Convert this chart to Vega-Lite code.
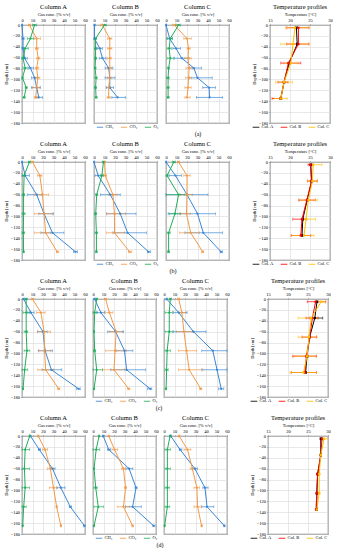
{
"$schema": "https://vega.github.io/schema/vega-lite/v6.json",
"padding": {"left": 3, "top": 2, "right": 0, "bottom": 0},
"datasets": {
"gas": [
{"r":"a","c":"A","g":"CH₄","d":0,"v":0,"lo":0,"hi":0.5},
{"r":"a","c":"A","g":"CH₄","d":-25,"v":1,"lo":0,"hi":2},
{"r":"a","c":"A","g":"CH₄","d":-43,"v":1,"lo":0,"hi":2},
{"r":"a","c":"A","g":"CH₄","d":-61,"v":2.5,"lo":0,"hi":5},
{"r":"a","c":"A","g":"CH₄","d":-79,"v":8,"lo":6,"hi":11},
{"r":"a","c":"A","g":"CH₄","d":-97,"v":12,"lo":9,"hi":15},
{"r":"a","c":"A","g":"CH₄","d":-115,"v":14,"lo":9,"hi":17.5},
{"r":"a","c":"A","g":"CH₄","d":-133,"v":16,"lo":13.5,"hi":19.5},
{"r":"a","c":"A","g":"CO₂","d":0,"v":7,"lo":6,"hi":8},
{"r":"a","c":"A","g":"CO₂","d":-25,"v":14,"lo":12,"hi":17.5},
{"r":"a","c":"A","g":"CO₂","d":-43,"v":14,"lo":13,"hi":15.5},
{"r":"a","c":"A","g":"CO₂","d":-61,"v":15.5,"lo":14,"hi":17},
{"r":"a","c":"A","g":"CO₂","d":-79,"v":14,"lo":12.5,"hi":16},
{"r":"a","c":"A","g":"CO₂","d":-97,"v":15,"lo":12.5,"hi":17},
{"r":"a","c":"A","g":"CO₂","d":-115,"v":14,"lo":10,"hi":17},
{"r":"a","c":"A","g":"CO₂","d":-133,"v":13,"lo":12,"hi":15},
{"r":"a","c":"A","g":"O₂","d":0,"v":12,"lo":10,"hi":14},
{"r":"a","c":"A","g":"O₂","d":-25,"v":8,"lo":5,"hi":11},
{"r":"a","c":"A","g":"O₂","d":-43,"v":3,"lo":0.5,"hi":6},
{"r":"a","c":"A","g":"O₂","d":-61,"v":1,"lo":0,"hi":3},
{"r":"a","c":"A","g":"O₂","d":-79,"v":3,"lo":1,"hi":5},
{"r":"a","c":"A","g":"O₂","d":-97,"v":0.5,"lo":0,"hi":1},
{"r":"a","c":"A","g":"O₂","d":-115,"v":4,"lo":3,"hi":5},
{"r":"a","c":"A","g":"O₂","d":-133,"v":2,"lo":1,"hi":3},
{"r":"a","c":"B","g":"CH₄","d":0,"v":0.5,"lo":0,"hi":1},
{"r":"a","c":"B","g":"CH₄","d":-25,"v":0.5,"lo":0,"hi":1},
{"r":"a","c":"B","g":"CH₄","d":-43,"v":5.5,"lo":3,"hi":8},
{"r":"a","c":"B","g":"CH₄","d":-61,"v":8,"lo":5,"hi":11.5},
{"r":"a","c":"B","g":"CH₄","d":-79,"v":14,"lo":10.5,"hi":18},
{"r":"a","c":"B","g":"CH₄","d":-97,"v":15,"lo":10.5,"hi":20},
{"r":"a","c":"B","g":"CH₄","d":-115,"v":15,"lo":11.5,"hi":18.5},
{"r":"a","c":"B","g":"CH₄","d":-133,"v":22.5,"lo":17,"hi":30},
{"r":"a","c":"B","g":"CO₂","d":0,"v":8,"lo":6,"hi":10},
{"r":"a","c":"B","g":"CO₂","d":-25,"v":15,"lo":13,"hi":17},
{"r":"a","c":"B","g":"CO₂","d":-43,"v":15,"lo":13,"hi":17},
{"r":"a","c":"B","g":"CO₂","d":-61,"v":15,"lo":13,"hi":16.5},
{"r":"a","c":"B","g":"CO₂","d":-79,"v":15,"lo":13,"hi":17},
{"r":"a","c":"B","g":"CO₂","d":-97,"v":15,"lo":13,"hi":17},
{"r":"a","c":"B","g":"CO₂","d":-115,"v":14,"lo":12,"hi":16},
{"r":"a","c":"B","g":"CO₂","d":-133,"v":14,"lo":12.5,"hi":15.5},
{"r":"a","c":"B","g":"O₂","d":0,"v":10,"lo":8,"hi":12},
{"r":"a","c":"B","g":"O₂","d":-25,"v":1.5,"lo":0.5,"hi":2.5},
{"r":"a","c":"B","g":"O₂","d":-43,"v":1.5,"lo":0.5,"hi":2.5},
{"r":"a","c":"B","g":"O₂","d":-61,"v":1.5,"lo":0.5,"hi":2.5},
{"r":"a","c":"B","g":"O₂","d":-79,"v":1,"lo":0.5,"hi":2},
{"r":"a","c":"B","g":"O₂","d":-97,"v":2,"lo":1,"hi":3},
{"r":"a","c":"B","g":"O₂","d":-115,"v":1.5,"lo":0.5,"hi":2.5},
{"r":"a","c":"B","g":"O₂","d":-133,"v":2,"lo":1,"hi":3},
{"r":"a","c":"C","g":"CH₄","d":0,"v":0,"lo":0,"hi":0.5},
{"r":"a","c":"C","g":"CH₄","d":-25,"v":3.5,"lo":1,"hi":6},
{"r":"a","c":"C","g":"CH₄","d":-43,"v":9.5,"lo":6.5,"hi":14},
{"r":"a","c":"C","g":"CH₄","d":-61,"v":15,"lo":8,"hi":22},
{"r":"a","c":"C","g":"CH₄","d":-79,"v":26.5,"lo":22,"hi":34},
{"r":"a","c":"C","g":"CH₄","d":-97,"v":30,"lo":22,"hi":44},
{"r":"a","c":"C","g":"CH₄","d":-115,"v":41,"lo":35,"hi":47},
{"r":"a","c":"C","g":"CH₄","d":-133,"v":41.5,"lo":29,"hi":54},
{"r":"a","c":"C","g":"CO₂","d":0,"v":8,"lo":6,"hi":10},
{"r":"a","c":"C","g":"CO₂","d":-25,"v":20,"lo":17,"hi":24},
{"r":"a","c":"C","g":"CO₂","d":-43,"v":21.5,"lo":20,"hi":23},
{"r":"a","c":"C","g":"CO₂","d":-61,"v":21,"lo":18,"hi":24},
{"r":"a","c":"C","g":"CO₂","d":-79,"v":22,"lo":19,"hi":25},
{"r":"a","c":"C","g":"CO₂","d":-97,"v":21.5,"lo":18.5,"hi":24.5},
{"r":"a","c":"C","g":"CO₂","d":-115,"v":21,"lo":18,"hi":24},
{"r":"a","c":"C","g":"CO₂","d":-133,"v":20,"lo":18,"hi":23},
{"r":"a","c":"C","g":"O₂","d":0,"v":12,"lo":9,"hi":14},
{"r":"a","c":"C","g":"O₂","d":-25,"v":4,"lo":1,"hi":6},
{"r":"a","c":"C","g":"O₂","d":-43,"v":3,"lo":1,"hi":5},
{"r":"a","c":"C","g":"O₂","d":-61,"v":4,"lo":1,"hi":7},
{"r":"a","c":"C","g":"O₂","d":-79,"v":2.5,"lo":1.5,"hi":3},
{"r":"a","c":"C","g":"O₂","d":-97,"v":2,"lo":0.5,"hi":3},
{"r":"a","c":"C","g":"O₂","d":-115,"v":2,"lo":1,"hi":3},
{"r":"a","c":"C","g":"O₂","d":-133,"v":2,"lo":1,"hi":3},
{"r":"b","c":"A","g":"CH₄","d":0,"v":0,"lo":0,"hi":0.5},
{"r":"b","c":"A","g":"CH₄","d":-25,"v":3,"lo":0,"hi":7},
{"r":"b","c":"A","g":"CH₄","d":-60,"v":14,"lo":5,"hi":19},
{"r":"b","c":"A","g":"CH₄","d":-95,"v":21,"lo":16,"hi":30},
{"r":"b","c":"A","g":"CH₄","d":-130,"v":29,"lo":18,"hi":40},
{"r":"b","c":"A","g":"CH₄","d":-165,"v":51,"lo":49,"hi":53},
{"r":"b","c":"A","g":"CO₂","d":0,"v":10,"lo":9,"hi":11},
{"r":"b","c":"A","g":"CO₂","d":-25,"v":17,"lo":15,"hi":19},
{"r":"b","c":"A","g":"CO₂","d":-60,"v":19.5,"lo":11.5,"hi":25.5},
{"r":"b","c":"A","g":"CO₂","d":-95,"v":21,"lo":12,"hi":29},
{"r":"b","c":"A","g":"CO₂","d":-130,"v":22.5,"lo":12,"hi":27},
{"r":"b","c":"A","g":"CO₂","d":-165,"v":33.5,"lo":33,"hi":35},
{"r":"b","c":"A","g":"O₂","d":0,"v":7,"lo":6,"hi":8},
{"r":"b","c":"A","g":"O₂","d":-25,"v":2,"lo":0.5,"hi":3.5},
{"r":"b","c":"A","g":"O₂","d":-60,"v":1.5,"lo":0.5,"hi":2.5},
{"r":"b","c":"A","g":"O₂","d":-95,"v":1.5,"lo":0,"hi":3},
{"r":"b","c":"A","g":"O₂","d":-130,"v":1.3,"lo":0,"hi":2.5},
{"r":"b","c":"A","g":"O₂","d":-165,"v":1.5,"lo":1,"hi":2},
{"r":"b","c":"B","g":"CH₄","d":0,"v":0,"lo":0,"hi":0.5},
{"r":"b","c":"B","g":"CH₄","d":-25,"v":4,"lo":1,"hi":7},
{"r":"b","c":"B","g":"CH₄","d":-60,"v":15.5,"lo":6,"hi":25},
{"r":"b","c":"B","g":"CH₄","d":-95,"v":25,"lo":12,"hi":40},
{"r":"b","c":"B","g":"CH₄","d":-130,"v":32,"lo":18,"hi":50},
{"r":"b","c":"B","g":"CH₄","d":-165,"v":52,"lo":51,"hi":54},
{"r":"b","c":"B","g":"CO₂","d":0,"v":10,"lo":9,"hi":11},
{"r":"b","c":"B","g":"CO₂","d":-25,"v":10.7,"lo":9,"hi":12},
{"r":"b","c":"B","g":"CO₂","d":-60,"v":18,"lo":14,"hi":22},
{"r":"b","c":"B","g":"CO₂","d":-95,"v":19.5,"lo":12,"hi":30},
{"r":"b","c":"B","g":"CO₂","d":-130,"v":19.5,"lo":12,"hi":29},
{"r":"b","c":"B","g":"CO₂","d":-165,"v":34,"lo":33,"hi":36},
{"r":"b","c":"B","g":"O₂","d":0,"v":9,"lo":8,"hi":10},
{"r":"b","c":"B","g":"O₂","d":-25,"v":7.5,"lo":6,"hi":9},
{"r":"b","c":"B","g":"O₂","d":-60,"v":2.6,"lo":1.5,"hi":3.5},
{"r":"b","c":"B","g":"O₂","d":-95,"v":1.6,"lo":0.5,"hi":2.5},
{"r":"b","c":"B","g":"O₂","d":-130,"v":2.3,"lo":1,"hi":3.5},
{"r":"b","c":"B","g":"O₂","d":-165,"v":2.3,"lo":1.5,"hi":3},
{"r":"b","c":"C","g":"CH₄","d":0,"v":0,"lo":0,"hi":0.5},
{"r":"b","c":"C","g":"CH₄","d":-25,"v":9,"lo":3,"hi":15},
{"r":"b","c":"C","g":"CH₄","d":-60,"v":20,"lo":0,"hi":40},
{"r":"b","c":"C","g":"CH₄","d":-95,"v":30,"lo":2,"hi":47},
{"r":"b","c":"C","g":"CH₄","d":-130,"v":35.5,"lo":18,"hi":54},
{"r":"b","c":"C","g":"CH₄","d":-165,"v":52.5,"lo":51.5,"hi":54},
{"r":"b","c":"C","g":"CO₂","d":0,"v":12,"lo":11,"hi":13},
{"r":"b","c":"C","g":"CO₂","d":-25,"v":20,"lo":17,"hi":23},
{"r":"b","c":"C","g":"CO₂","d":-60,"v":20,"lo":14,"hi":25},
{"r":"b","c":"C","g":"CO₂","d":-95,"v":19.5,"lo":13,"hi":23},
{"r":"b","c":"C","g":"CO₂","d":-130,"v":23.5,"lo":13,"hi":32},
{"r":"b","c":"C","g":"CO₂","d":-165,"v":35,"lo":34,"hi":36},
{"r":"b","c":"C","g":"O₂","d":0,"v":7.5,"lo":6,"hi":9},
{"r":"b","c":"C","g":"O₂","d":-25,"v":1,"lo":0,"hi":2},
{"r":"b","c":"C","g":"O₂","d":-60,"v":12,"lo":0,"hi":18},
{"r":"b","c":"C","g":"O₂","d":-95,"v":8.5,"lo":3,"hi":14},
{"r":"b","c":"C","g":"O₂","d":-130,"v":2.5,"lo":1,"hi":4},
{"r":"b","c":"C","g":"O₂","d":-165,"v":2.5,"lo":1.5,"hi":3.5},
{"r":"c","c":"A","g":"CH₄","d":0,"v":1.5,"lo":1,"hi":2},
{"r":"c","c":"A","g":"CH₄","d":-25,"v":8.5,"lo":5.5,"hi":11.5},
{"r":"c","c":"A","g":"CH₄","d":-60,"v":20,"lo":15,"hi":24},
{"r":"c","c":"A","g":"CH₄","d":-95,"v":22,"lo":15.5,"hi":29},
{"r":"c","c":"A","g":"CH₄","d":-130,"v":28,"lo":19,"hi":38},
{"r":"c","c":"A","g":"CH₄","d":-165,"v":54,"lo":52,"hi":55.5},
{"r":"c","c":"A","g":"CO₂","d":0,"v":10,"lo":9,"hi":11},
{"r":"c","c":"A","g":"CO₂","d":-25,"v":18,"lo":13.5,"hi":22},
{"r":"c","c":"A","g":"CO₂","d":-60,"v":21,"lo":15,"hi":27},
{"r":"c","c":"A","g":"CO₂","d":-95,"v":21.5,"lo":16,"hi":27},
{"r":"c","c":"A","g":"CO₂","d":-130,"v":22.5,"lo":15,"hi":30},
{"r":"c","c":"A","g":"CO₂","d":-165,"v":35,"lo":34,"hi":36},
{"r":"c","c":"A","g":"O₂","d":0,"v":4,"lo":3,"hi":5},
{"r":"c","c":"A","g":"O₂","d":-25,"v":4,"lo":1,"hi":7},
{"r":"c","c":"A","g":"O₂","d":-60,"v":4,"lo":2,"hi":5.5},
{"r":"c","c":"A","g":"O₂","d":-95,"v":4.7,"lo":2,"hi":7.5},
{"r":"c","c":"A","g":"O₂","d":-130,"v":2.5,"lo":0,"hi":5.5},
{"r":"c","c":"A","g":"O₂","d":-165,"v":1,"lo":0.5,"hi":1.5},
{"r":"c","c":"B","g":"CH₄","d":0,"v":1.6,"lo":1,"hi":2},
{"r":"c","c":"B","g":"CH₄","d":-25,"v":7.5,"lo":3.5,"hi":11},
{"r":"c","c":"B","g":"CH₄","d":-60,"v":21.5,"lo":14,"hi":29},
{"r":"c","c":"B","g":"CH₄","d":-95,"v":30,"lo":22,"hi":38},
{"r":"c","c":"B","g":"CH₄","d":-130,"v":32,"lo":17,"hi":50},
{"r":"c","c":"B","g":"CH₄","d":-165,"v":54.5,"lo":52,"hi":56},
{"r":"c","c":"B","g":"CO₂","d":0,"v":12,"lo":11,"hi":13},
{"r":"c","c":"B","g":"CO₂","d":-25,"v":15.6,"lo":12,"hi":19},
{"r":"c","c":"B","g":"CO₂","d":-60,"v":22,"lo":16,"hi":28},
{"r":"c","c":"B","g":"CO₂","d":-95,"v":21,"lo":12,"hi":32},
{"r":"c","c":"B","g":"CO₂","d":-130,"v":20,"lo":9,"hi":30},
{"r":"c","c":"B","g":"CO₂","d":-165,"v":34,"lo":33,"hi":35},
{"r":"c","c":"B","g":"O₂","d":0,"v":3.5,"lo":3,"hi":4},
{"r":"c","c":"B","g":"O₂","d":-25,"v":1.6,"lo":0,"hi":4},
{"r":"c","c":"B","g":"O₂","d":-60,"v":1,"lo":0.5,"hi":1.5},
{"r":"c","c":"B","g":"O₂","d":-95,"v":1.6,"lo":0.5,"hi":2.5},
{"r":"c","c":"B","g":"O₂","d":-130,"v":3.5,"lo":0,"hi":9},
{"r":"c","c":"B","g":"O₂","d":-165,"v":1,"lo":0.5,"hi":1.5},
{"r":"c","c":"C","g":"CH₄","d":0,"v":2.5,"lo":2,"hi":3},
{"r":"c","c":"C","g":"CH₄","d":-25,"v":14,"lo":9,"hi":22},
{"r":"c","c":"C","g":"CH₄","d":-60,"v":28,"lo":9,"hi":40},
{"r":"c","c":"C","g":"CH₄","d":-95,"v":46.5,"lo":36,"hi":60},
{"r":"c","c":"C","g":"CH₄","d":-130,"v":50.5,"lo":36,"hi":60},
{"r":"c","c":"C","g":"CH₄","d":-165,"v":54.5,"lo":52,"hi":57},
{"r":"c","c":"C","g":"CO₂","d":0,"v":14,"lo":13,"hi":15},
{"r":"c","c":"C","g":"CO₂","d":-25,"v":17,"lo":14,"hi":21},
{"r":"c","c":"C","g":"CO₂","d":-60,"v":19,"lo":12,"hi":28},
{"r":"c","c":"C","g":"CO₂","d":-95,"v":21.5,"lo":14,"hi":31},
{"r":"c","c":"C","g":"CO₂","d":-130,"v":24,"lo":14,"hi":37},
{"r":"c","c":"C","g":"CO₂","d":-165,"v":35,"lo":34,"hi":36},
{"r":"c","c":"C","g":"O₂","d":0,"v":6,"lo":5,"hi":7},
{"r":"c","c":"C","g":"O₂","d":-25,"v":5,"lo":1,"hi":8},
{"r":"c","c":"C","g":"O₂","d":-60,"v":5,"lo":1,"hi":8},
{"r":"c","c":"C","g":"O₂","d":-95,"v":3,"lo":1,"hi":6},
{"r":"c","c":"C","g":"O₂","d":-130,"v":2.5,"lo":1,"hi":4},
{"r":"c","c":"C","g":"O₂","d":-165,"v":2,"lo":1.5,"hi":2.5},
{"r":"d","c":"A","g":"CH₄","d":0,"v":8,"lo":7.5,"hi":8.5},
{"r":"d","c":"A","g":"CH₄","d":-25,"v":16.5,"lo":15.5,"hi":17.5},
{"r":"d","c":"A","g":"CH₄","d":-60,"v":29,"lo":27,"hi":31.5},
{"r":"d","c":"A","g":"CH₄","d":-95,"v":37,"lo":33,"hi":41},
{"r":"d","c":"A","g":"CH₄","d":-130,"v":46,"lo":45,"hi":47},
{"r":"d","c":"A","g":"CH₄","d":-165,"v":59.5,"lo":58.5,"hi":60},
{"r":"d","c":"A","g":"CO₂","d":0,"v":15.5,"lo":15,"hi":16},
{"r":"d","c":"A","g":"CO₂","d":-25,"v":22,"lo":19.5,"hi":24.5},
{"r":"d","c":"A","g":"CO₂","d":-60,"v":27,"lo":24,"hi":30},
{"r":"d","c":"A","g":"CO₂","d":-95,"v":30,"lo":26,"hi":34},
{"r":"d","c":"A","g":"CO₂","d":-130,"v":33,"lo":32.5,"hi":33.5},
{"r":"d","c":"A","g":"CO₂","d":-165,"v":37,"lo":36.5,"hi":37.5},
{"r":"d","c":"A","g":"O₂","d":0,"v":7.3,"lo":7,"hi":7.5},
{"r":"d","c":"A","g":"O₂","d":-25,"v":3,"lo":0,"hi":7.3},
{"r":"d","c":"A","g":"O₂","d":-60,"v":2.3,"lo":0,"hi":7.3},
{"r":"d","c":"A","g":"O₂","d":-95,"v":3,"lo":0,"hi":7.3},
{"r":"d","c":"A","g":"O₂","d":-130,"v":1.6,"lo":0,"hi":4},
{"r":"d","c":"A","g":"O₂","d":-165,"v":0.7,"lo":0.3,"hi":1},
{"r":"d","c":"B","g":"CH₄","d":0,"v":9.7,"lo":9,"hi":10.5},
{"r":"d","c":"B","g":"CH₄","d":-25,"v":15,"lo":14,"hi":16.5},
{"r":"d","c":"B","g":"CH₄","d":-60,"v":34.4,"lo":31.5,"hi":38},
{"r":"d","c":"B","g":"CH₄","d":-95,"v":41,"lo":40,"hi":42},
{"r":"d","c":"B","g":"CH₄","d":-130,"v":37.7,"lo":31,"hi":46},
{"r":"d","c":"B","g":"CH₄","d":-165,"v":57.8,"lo":57,"hi":59},
{"r":"d","c":"B","g":"CO₂","d":0,"v":15,"lo":14.5,"hi":15.5},
{"r":"d","c":"B","g":"CO₂","d":-25,"v":20.5,"lo":18,"hi":23.5},
{"r":"d","c":"B","g":"CO₂","d":-60,"v":29,"lo":27,"hi":31},
{"r":"d","c":"B","g":"CO₂","d":-95,"v":31,"lo":30,"hi":32},
{"r":"d","c":"B","g":"CO₂","d":-130,"v":29,"lo":23.5,"hi":35},
{"r":"d","c":"B","g":"CO₂","d":-165,"v":37.7,"lo":37,"hi":38.5},
{"r":"d","c":"B","g":"O₂","d":0,"v":5.8,"lo":5.5,"hi":6},
{"r":"d","c":"B","g":"O₂","d":-25,"v":3,"lo":0,"hi":6.5},
{"r":"d","c":"B","g":"O₂","d":-60,"v":1,"lo":0.5,"hi":1.5},
{"r":"d","c":"B","g":"O₂","d":-95,"v":2.6,"lo":1,"hi":4},
{"r":"d","c":"B","g":"O₂","d":-130,"v":5,"lo":1,"hi":10},
{"r":"d","c":"B","g":"O₂","d":-165,"v":1,"lo":0.5,"hi":1.5},
{"r":"d","c":"C","g":"CH₄","d":0,"v":6.4,"lo":6,"hi":7},
{"r":"d","c":"C","g":"CH₄","d":-25,"v":15.3,"lo":14.5,"hi":17},
{"r":"d","c":"C","g":"CH₄","d":-60,"v":29.4,"lo":27,"hi":32},
{"r":"d","c":"C","g":"CH₄","d":-95,"v":39,"lo":37,"hi":42},
{"r":"d","c":"C","g":"CH₄","d":-130,"v":41,"lo":36,"hi":47.5},
{"r":"d","c":"C","g":"CH₄","d":-165,"v":57.5,"lo":57,"hi":58},
{"r":"d","c":"C","g":"CO₂","d":0,"v":14.4,"lo":14,"hi":15},
{"r":"d","c":"C","g":"CO₂","d":-25,"v":22.4,"lo":19,"hi":25.5},
{"r":"d","c":"C","g":"CO₂","d":-60,"v":27,"lo":25,"hi":30},
{"r":"d","c":"C","g":"CO₂","d":-95,"v":31.3,"lo":28.5,"hi":34},
{"r":"d","c":"C","g":"CO₂","d":-130,"v":32,"lo":28.5,"hi":35.5},
{"r":"d","c":"C","g":"CO₂","d":-165,"v":35.8,"lo":35.5,"hi":36.5},
{"r":"d","c":"C","g":"O₂","d":0,"v":5.8,"lo":5.5,"hi":6},
{"r":"d","c":"C","g":"O₂","d":-25,"v":3.2,"lo":1,"hi":6},
{"r":"d","c":"C","g":"O₂","d":-60,"v":3.2,"lo":1,"hi":6},
{"r":"d","c":"C","g":"O₂","d":-95,"v":3.2,"lo":1,"hi":5},
{"r":"d","c":"C","g":"O₂","d":-130,"v":3.2,"lo":1,"hi":5.5},
{"r":"d","c":"C","g":"O₂","d":-165,"v":0.6,"lo":0.3,"hi":1}
],
"temp": [
{"r":"a","c":"Col. A","d":-5,"t":21.6,"lo":21.4,"hi":21.8},
{"r":"a","c":"Col. A","d":-35,"t":21.8,"lo":21.6,"hi":22},
{"r":"a","c":"Col. A","d":-70,"t":19.8,"lo":19.6,"hi":20},
{"r":"a","c":"Col. A","d":-105,"t":18.5,"lo":18.3,"hi":18.7},
{"r":"a","c":"Col. A","d":-135,"t":17.7,"lo":17.5,"hi":17.9},
{"r":"a","c":"Col. B","d":-5,"t":22.1,"lo":19.2,"hi":24.75},
{"r":"a","c":"Col. B","d":-35,"t":22.1,"lo":19.2,"hi":24.75},
{"r":"a","c":"Col. B","d":-70,"t":19.6,"lo":17.7,"hi":22.7},
{"r":"a","c":"Col. B","d":-105,"t":18.5,"lo":17,"hi":19.5},
{"r":"a","c":"Col. B","d":-135,"t":17.7,"lo":15.5,"hi":18},
{"r":"a","c":"Col. C","d":-5,"t":21.25,"lo":18.9,"hi":24.75},
{"r":"a","c":"Col. C","d":-35,"t":20.75,"lo":17.7,"hi":24.75},
{"r":"a","c":"Col. C","d":-70,"t":20.2,"lo":18.5,"hi":22},
{"r":"a","c":"Col. C","d":-105,"t":18.5,"lo":16.4,"hi":20.6},
{"r":"a","c":"Col. C","d":-135,"t":17.7,"lo":16,"hi":19.3},
{"r":"b","c":"Col. A","d":-5,"t":25.2,"lo":25,"hi":25.4},
{"r":"b","c":"Col. A","d":-35,"t":25.4,"lo":25.2,"hi":25.6},
{"r":"b","c":"Col. A","d":-70,"t":24.3,"lo":24.1,"hi":24.5},
{"r":"b","c":"Col. A","d":-105,"t":23.2,"lo":23,"hi":23.4},
{"r":"b","c":"Col. A","d":-135,"t":23,"lo":22.8,"hi":23.2},
{"r":"b","c":"Col. B","d":-5,"t":25.1,"lo":24.5,"hi":25.7},
{"r":"b","c":"Col. B","d":-35,"t":25.4,"lo":24.4,"hi":26.8},
{"r":"b","c":"Col. B","d":-70,"t":24.2,"lo":22.2,"hi":26.3},
{"r":"b","c":"Col. B","d":-105,"t":23,"lo":20.7,"hi":24.2},
{"r":"b","c":"Col. B","d":-135,"t":22.7,"lo":20.3,"hi":25.2},
{"r":"b","c":"Col. C","d":-5,"t":25.8,"lo":25.3,"hi":28},
{"r":"b","c":"Col. C","d":-35,"t":25.6,"lo":24.4,"hi":26.8},
{"r":"b","c":"Col. C","d":-70,"t":24.6,"lo":22.5,"hi":26.8},
{"r":"b","c":"Col. C","d":-105,"t":24,"lo":22.9,"hi":26.4},
{"r":"b","c":"Col. C","d":-135,"t":23.5,"lo":20.4,"hi":26},
{"r":"c","c":"Col. A","d":-5,"t":27.25,"lo":27,"hi":27.5},
{"r":"c","c":"Col. A","d":-35,"t":26.7,"lo":25.5,"hi":28.7},
{"r":"c","c":"Col. A","d":-70,"t":25.4,"lo":25.2,"hi":25.6},
{"r":"c","c":"Col. A","d":-105,"t":24.75,"lo":24.5,"hi":25},
{"r":"c","c":"Col. A","d":-135,"t":24.4,"lo":24.2,"hi":24.6},
{"r":"c","c":"Col. B","d":-5,"t":26.9,"lo":24.8,"hi":29.4},
{"r":"c","c":"Col. B","d":-35,"t":26.1,"lo":24.5,"hi":27.5},
{"r":"c","c":"Col. B","d":-70,"t":25.4,"lo":23.5,"hi":27.2},
{"r":"c","c":"Col. B","d":-105,"t":24.6,"lo":21.2,"hi":27.1},
{"r":"c","c":"Col. B","d":-135,"t":24.2,"lo":20.8,"hi":27.1},
{"r":"c","c":"Col. C","d":-5,"t":28.3,"lo":27.2,"hi":29.5},
{"r":"c","c":"Col. C","d":-35,"t":25.8,"lo":22.5,"hi":27.5},
{"r":"c","c":"Col. C","d":-70,"t":25.25,"lo":22.5,"hi":27.1},
{"r":"c","c":"Col. C","d":-105,"t":24.75,"lo":21.5,"hi":27},
{"r":"c","c":"Col. C","d":-135,"t":23.9,"lo":20.5,"hi":27.1},
{"r":"d","c":"Col. A","d":-5,"t":28.2,"lo":28.05,"hi":28.35},
{"r":"d","c":"Col. A","d":-35,"t":28.2,"lo":28.05,"hi":28.35},
{"r":"d","c":"Col. A","d":-70,"t":27.4,"lo":27.25,"hi":27.55},
{"r":"d","c":"Col. A","d":-105,"t":27.2,"lo":27.05,"hi":27.35},
{"r":"d","c":"Col. A","d":-135,"t":27.2,"lo":27.05,"hi":27.35},
{"r":"d","c":"Col. B","d":-5,"t":28.5,"lo":28.35,"hi":28.65},
{"r":"d","c":"Col. B","d":-35,"t":28.2,"lo":28.05,"hi":28.35},
{"r":"d","c":"Col. B","d":-70,"t":27.4,"lo":27.25,"hi":27.55},
{"r":"d","c":"Col. B","d":-105,"t":27.2,"lo":27.05,"hi":27.35},
{"r":"d","c":"Col. B","d":-135,"t":27,"lo":26.85,"hi":27.15},
{"r":"d","c":"Col. C","d":-5,"t":29,"lo":28.5,"hi":29.9},
{"r":"d","c":"Col. C","d":-35,"t":28.2,"lo":28,"hi":28.4},
{"r":"d","c":"Col. C","d":-70,"t":27.8,"lo":27.6,"hi":28},
{"r":"d","c":"Col. C","d":-105,"t":27.8,"lo":27.6,"hi":28},
{"r":"d","c":"Col. C","d":-135,"t":27.2,"lo":27,"hi":27.4}
]
},
"spacing": 2,
"vconcat": [
{"title": {"text": "(a)", "orient": "bottom", "anchor": "middle", "dx": 30, "fontSize": 6, "offset": 0},
 "spacing": 19,
 "resolve": {"scale": {"color": "independent", "x": "independent", "y": "independent"}, "legend": {"color": "independent"}},
 "hconcat": [
  {"spacing": 3,
   "resolve": {"scale": {"color": "independent", "x": "independent", "y": "independent"}, "legend": {"color": "independent"}},
   "hconcat": [
    {"data": {"name": "gas"}, "width": 63, "height": 98, "title": "Column A",
     "transform": [{"filter": "datum.r=='a' && datum.c=='A'"}],
     "encoding": {"y": {"field": "d", "type": "quantitative", "scale": {"domain": [-180, 0], "nice": false}, "axis": {"values": [0,-20,-40,-60,-80,-100,-120,-140,-160,-180], "title": "Depth [cm]"}},
      "color": {"field": "g", "type": "nominal", "scale": {"domain": ["CH₄","CO₂","O₂"], "range": ["#3b87d4","#f39a48","#1fae5a"]}, "legend": null}},
     "layer": [
      {"mark": {"type": "errorbar", "ticks": {"size": 3}, "thickness": 0.7}, "encoding": {"x": {"field": "lo", "type": "quantitative", "scale": {"domain": [0, 60], "nice": false}, "axis": {"orient": "top", "values": [0,10,20,30,40,50,60], "title": "Gas conc. [% v/v]"}}, "x2": {"field": "hi"}}},
      {"mark": {"type": "line", "strokeWidth": 1, "point": {"size": 5, "filled": true}}, "encoding": {"x": {"field": "v", "type": "quantitative", "scale": {"domain": [0, 60], "nice": false}, "axis": {"orient": "top", "values": [0,10,20,30,40,50,60], "title": "Gas conc. [% v/v]"}}, "order": {"field": "d", "type": "quantitative"}}}
     ]},
    {"data": {"name": "gas"}, "width": 63, "height": 98, "title": "Column B",
     "transform": [{"filter": "datum.r=='a' && datum.c=='B'"}],
     "encoding": {"y": {"field": "d", "type": "quantitative", "scale": {"domain": [-180, 0], "nice": false}, "axis": {"values": [0,-20,-40,-60,-80,-100,-120,-140,-160,-180], "labels": false, "ticks": false, "title": null}},
      "color": {"field": "g", "type": "nominal", "scale": {"domain": ["CH₄","CO₂","O₂"], "range": ["#3b87d4","#f39a48","#1fae5a"]}, "legend": {"orient": "none", "legendX": 2, "legendY": 98, "direction": "horizontal", "title": null, "padding": 0, "symbolType": "stroke", "symbolSize": 40, "symbolStrokeWidth": 1.2, "labelFontSize": 4.5, "columnPadding": 4, "labelOffset": 1.5}}},
     "layer": [
      {"mark": {"type": "errorbar", "ticks": {"size": 3}, "thickness": 0.7}, "encoding": {"x": {"field": "lo", "type": "quantitative", "scale": {"domain": [0, 60], "nice": false}, "axis": {"orient": "top", "values": [0,10,20,30,40,50,60], "title": "Gas conc. [% v/v]"}}, "x2": {"field": "hi"}}},
      {"mark": {"type": "line", "strokeWidth": 1, "point": {"size": 5, "filled": true}}, "encoding": {"x": {"field": "v", "type": "quantitative", "scale": {"domain": [0, 60], "nice": false}, "axis": {"orient": "top", "values": [0,10,20,30,40,50,60], "title": "Gas conc. [% v/v]"}}, "order": {"field": "d", "type": "quantitative"}}}
     ]},
    {"data": {"name": "gas"}, "width": 63, "height": 98, "title": "Column C",
     "transform": [{"filter": "datum.r=='a' && datum.c=='C'"}],
     "encoding": {"y": {"field": "d", "type": "quantitative", "scale": {"domain": [-180, 0], "nice": false}, "axis": {"values": [0,-20,-40,-60,-80,-100,-120,-140,-160,-180], "labels": false, "ticks": false, "title": null}},
      "color": {"field": "g", "type": "nominal", "scale": {"domain": ["CH₄","CO₂","O₂"], "range": ["#3b87d4","#f39a48","#1fae5a"]}, "legend": null}},
     "layer": [
      {"mark": {"type": "errorbar", "ticks": {"size": 3}, "thickness": 0.7}, "encoding": {"x": {"field": "lo", "type": "quantitative", "scale": {"domain": [0, 60], "nice": false}, "axis": {"orient": "top", "values": [0,10,20,30,40,50,60], "title": "Gas conc. [% v/v]"}}, "x2": {"field": "hi"}}},
      {"mark": {"type": "line", "strokeWidth": 1, "point": {"size": 5, "filled": true}}, "encoding": {"x": {"field": "v", "type": "quantitative", "scale": {"domain": [0, 60], "nice": false}, "axis": {"orient": "top", "values": [0,10,20,30,40,50,60], "title": "Gas conc. [% v/v]"}}, "order": {"field": "d", "type": "quantitative"}}}
     ]}
   ]},
  {"data": {"name": "temp"}, "width": 60, "height": 98, "title": "Temperature profiles",
   "transform": [{"filter": "datum.r=='a'"}],
   "encoding": {"y": {"field": "d", "type": "quantitative", "scale": {"domain": [-180, 0], "nice": false}, "axis": {"values": [0,-20,-40,-60,-80,-100,-120,-140,-160,-180], "title": "Depth [cm]"}},
    "color": {"field": "c", "type": "nominal", "scale": {"domain": ["Col. A","Col. B","Col. C"], "range": ["#000000","#ff0000","#ffc000"]}, "legend": {"orient": "none", "legendX": -18, "legendY": 98, "direction": "horizontal", "title": null, "padding": 0, "symbolType": "stroke", "symbolSize": 45, "symbolStrokeWidth": 1.2, "labelFontSize": 4.5, "columnPadding": 4, "labelOffset": 1.5}}},
   "layer": [
    {"mark": {"type": "errorbar", "ticks": {"size": 3}, "thickness": 0.7}, "encoding": {"x": {"field": "lo", "type": "quantitative", "scale": {"domain": [15, 30], "nice": false}, "axis": {"orient": "top", "values": [15,20,25,30], "title": "Temperature [°C]"}}, "x2": {"field": "hi"}}},
    {"mark": {"type": "line", "strokeWidth": 1, "point": {"size": 5, "filled": true, "shape": "square"}}, "encoding": {"x": {"field": "t", "type": "quantitative", "scale": {"domain": [15, 30], "nice": false}, "axis": {"orient": "top", "values": [15,20,25,30], "title": "Temperature [°C]"}}, "order": {"field": "d", "type": "quantitative"}}}
   ]}
 ]},
{"title": {"text": "(b)", "orient": "bottom", "anchor": "middle", "dx": 5, "fontSize": 6, "offset": 0},
 "spacing": 19,
 "resolve": {"scale": {"color": "independent", "x": "independent", "y": "independent"}, "legend": {"color": "independent"}},
 "hconcat": [
  {"spacing": 3,
   "resolve": {"scale": {"color": "independent", "x": "independent", "y": "independent"}, "legend": {"color": "independent"}},
   "hconcat": [
    {"data": {"name": "gas"}, "width": 63, "height": 98, "title": "Column A",
     "transform": [{"filter": "datum.r=='b' && datum.c=='A'"}],
     "encoding": {"y": {"field": "d", "type": "quantitative", "scale": {"domain": [-180, 0], "nice": false}, "axis": {"values": [0,-20,-40,-60,-80,-100,-120,-140,-160,-180], "title": "Depth [cm]"}},
      "color": {"field": "g", "type": "nominal", "scale": {"domain": ["CH₄","CO₂","O₂"], "range": ["#3b87d4","#f39a48","#1fae5a"]}, "legend": null}},
     "layer": [
      {"mark": {"type": "errorbar", "ticks": {"size": 3}, "thickness": 0.7}, "encoding": {"x": {"field": "lo", "type": "quantitative", "scale": {"domain": [0, 60], "nice": false}, "axis": {"orient": "top", "values": [0,10,20,30,40,50,60], "title": "Gas conc. [% v/v]"}}, "x2": {"field": "hi"}}},
      {"mark": {"type": "line", "strokeWidth": 1, "point": {"size": 5, "filled": true}}, "encoding": {"x": {"field": "v", "type": "quantitative", "scale": {"domain": [0, 60], "nice": false}, "axis": {"orient": "top", "values": [0,10,20,30,40,50,60], "title": "Gas conc. [% v/v]"}}, "order": {"field": "d", "type": "quantitative"}}}
     ]},
    {"data": {"name": "gas"}, "width": 63, "height": 98, "title": "Column B",
     "transform": [{"filter": "datum.r=='b' && datum.c=='B'"}],
     "encoding": {"y": {"field": "d", "type": "quantitative", "scale": {"domain": [-180, 0], "nice": false}, "axis": {"values": [0,-20,-40,-60,-80,-100,-120,-140,-160,-180], "labels": false, "ticks": false, "title": null}},
      "color": {"field": "g", "type": "nominal", "scale": {"domain": ["CH₄","CO₂","O₂"], "range": ["#3b87d4","#f39a48","#1fae5a"]}, "legend": {"orient": "none", "legendX": 2, "legendY": 98, "direction": "horizontal", "title": null, "padding": 0, "symbolType": "stroke", "symbolSize": 40, "symbolStrokeWidth": 1.2, "labelFontSize": 4.5, "columnPadding": 4, "labelOffset": 1.5}}},
     "layer": [
      {"mark": {"type": "errorbar", "ticks": {"size": 3}, "thickness": 0.7}, "encoding": {"x": {"field": "lo", "type": "quantitative", "scale": {"domain": [0, 60], "nice": false}, "axis": {"orient": "top", "values": [0,10,20,30,40,50,60], "title": "Gas conc. [% v/v]"}}, "x2": {"field": "hi"}}},
      {"mark": {"type": "line", "strokeWidth": 1, "point": {"size": 5, "filled": true}}, "encoding": {"x": {"field": "v", "type": "quantitative", "scale": {"domain": [0, 60], "nice": false}, "axis": {"orient": "top", "values": [0,10,20,30,40,50,60], "title": "Gas conc. [% v/v]"}}, "order": {"field": "d", "type": "quantitative"}}}
     ]},
    {"data": {"name": "gas"}, "width": 63, "height": 98, "title": "Column C",
     "transform": [{"filter": "datum.r=='b' && datum.c=='C'"}],
     "encoding": {"y": {"field": "d", "type": "quantitative", "scale": {"domain": [-180, 0], "nice": false}, "axis": {"values": [0,-20,-40,-60,-80,-100,-120,-140,-160,-180], "labels": false, "ticks": false, "title": null}},
      "color": {"field": "g", "type": "nominal", "scale": {"domain": ["CH₄","CO₂","O₂"], "range": ["#3b87d4","#f39a48","#1fae5a"]}, "legend": null}},
     "layer": [
      {"mark": {"type": "errorbar", "ticks": {"size": 3}, "thickness": 0.7}, "encoding": {"x": {"field": "lo", "type": "quantitative", "scale": {"domain": [0, 60], "nice": false}, "axis": {"orient": "top", "values": [0,10,20,30,40,50,60], "title": "Gas conc. [% v/v]"}}, "x2": {"field": "hi"}}},
      {"mark": {"type": "line", "strokeWidth": 1, "point": {"size": 5, "filled": true}}, "encoding": {"x": {"field": "v", "type": "quantitative", "scale": {"domain": [0, 60], "nice": false}, "axis": {"orient": "top", "values": [0,10,20,30,40,50,60], "title": "Gas conc. [% v/v]"}}, "order": {"field": "d", "type": "quantitative"}}}
     ]}
   ]},
  {"data": {"name": "temp"}, "width": 60, "height": 98, "title": "Temperature profiles",
   "transform": [{"filter": "datum.r=='b'"}],
   "encoding": {"y": {"field": "d", "type": "quantitative", "scale": {"domain": [-180, 0], "nice": false}, "axis": {"values": [0,-20,-40,-60,-80,-100,-120,-140,-160,-180], "title": "Depth [cm]"}},
    "color": {"field": "c", "type": "nominal", "scale": {"domain": ["Col. A","Col. B","Col. C"], "range": ["#000000","#ff0000","#ffc000"]}, "legend": {"orient": "none", "legendX": -18, "legendY": 98, "direction": "horizontal", "title": null, "padding": 0, "symbolType": "stroke", "symbolSize": 45, "symbolStrokeWidth": 1.2, "labelFontSize": 4.5, "columnPadding": 4, "labelOffset": 1.5}}},
   "layer": [
    {"mark": {"type": "errorbar", "ticks": {"size": 3}, "thickness": 0.7}, "encoding": {"x": {"field": "lo", "type": "quantitative", "scale": {"domain": [15, 30], "nice": false}, "axis": {"orient": "top", "values": [15,20,25,30], "title": "Temperature [°C]"}}, "x2": {"field": "hi"}}},
    {"mark": {"type": "line", "strokeWidth": 1, "point": {"size": 5, "filled": true, "shape": "square"}}, "encoding": {"x": {"field": "t", "type": "quantitative", "scale": {"domain": [15, 30], "nice": false}, "axis": {"orient": "top", "values": [15,20,25,30], "title": "Temperature [°C]"}}, "order": {"field": "d", "type": "quantitative"}}}
   ]}
 ]},
{"title": {"text": "(c)", "orient": "bottom", "anchor": "middle", "dx": -8, "fontSize": 6, "offset": 0},
 "spacing": 19,
 "resolve": {"scale": {"color": "independent", "x": "independent", "y": "independent"}, "legend": {"color": "independent"}},
 "hconcat": [
  {"spacing": 3,
   "resolve": {"scale": {"color": "independent", "x": "independent", "y": "independent"}, "legend": {"color": "independent"}},
   "hconcat": [
    {"data": {"name": "gas"}, "width": 63, "height": 98, "title": "Column A",
     "transform": [{"filter": "datum.r=='c' && datum.c=='A'"}],
     "encoding": {"y": {"field": "d", "type": "quantitative", "scale": {"domain": [-180, 0], "nice": false}, "axis": {"values": [0,-20,-40,-60,-80,-100,-120,-140,-160,-180], "title": "Depth [cm]"}},
      "color": {"field": "g", "type": "nominal", "scale": {"domain": ["CH₄","CO₂","O₂"], "range": ["#3b87d4","#f39a48","#1fae5a"]}, "legend": null}},
     "layer": [
      {"mark": {"type": "errorbar", "ticks": {"size": 3}, "thickness": 0.7}, "encoding": {"x": {"field": "lo", "type": "quantitative", "scale": {"domain": [0, 60], "nice": false}, "axis": {"orient": "top", "values": [0,10,20,30,40,50,60], "title": "Gas conc. [% v/v]"}}, "x2": {"field": "hi"}}},
      {"mark": {"type": "line", "strokeWidth": 1, "point": {"size": 5, "filled": true}}, "encoding": {"x": {"field": "v", "type": "quantitative", "scale": {"domain": [0, 60], "nice": false}, "axis": {"orient": "top", "values": [0,10,20,30,40,50,60], "title": "Gas conc. [% v/v]"}}, "order": {"field": "d", "type": "quantitative"}}}
     ]},
    {"data": {"name": "gas"}, "width": 63, "height": 98, "title": "Column B",
     "transform": [{"filter": "datum.r=='c' && datum.c=='B'"}],
     "encoding": {"y": {"field": "d", "type": "quantitative", "scale": {"domain": [-180, 0], "nice": false}, "axis": {"values": [0,-20,-40,-60,-80,-100,-120,-140,-160,-180], "labels": false, "ticks": false, "title": null}},
      "color": {"field": "g", "type": "nominal", "scale": {"domain": ["CH₄","CO₂","O₂"], "range": ["#3b87d4","#f39a48","#1fae5a"]}, "legend": {"orient": "none", "legendX": 2, "legendY": 98, "direction": "horizontal", "title": null, "padding": 0, "symbolType": "stroke", "symbolSize": 40, "symbolStrokeWidth": 1.2, "labelFontSize": 4.5, "columnPadding": 4, "labelOffset": 1.5}}},
     "layer": [
      {"mark": {"type": "errorbar", "ticks": {"size": 3}, "thickness": 0.7}, "encoding": {"x": {"field": "lo", "type": "quantitative", "scale": {"domain": [0, 60], "nice": false}, "axis": {"orient": "top", "values": [0,10,20,30,40,50,60], "title": "Gas conc. [% v/v]"}}, "x2": {"field": "hi"}}},
      {"mark": {"type": "line", "strokeWidth": 1, "point": {"size": 5, "filled": true}}, "encoding": {"x": {"field": "v", "type": "quantitative", "scale": {"domain": [0, 60], "nice": false}, "axis": {"orient": "top", "values": [0,10,20,30,40,50,60], "title": "Gas conc. [% v/v]"}}, "order": {"field": "d", "type": "quantitative"}}}
     ]},
    {"data": {"name": "gas"}, "width": 63, "height": 98, "title": "Column C",
     "transform": [{"filter": "datum.r=='c' && datum.c=='C'"}],
     "encoding": {"y": {"field": "d", "type": "quantitative", "scale": {"domain": [-180, 0], "nice": false}, "axis": {"values": [0,-20,-40,-60,-80,-100,-120,-140,-160,-180], "labels": false, "ticks": false, "title": null}},
      "color": {"field": "g", "type": "nominal", "scale": {"domain": ["CH₄","CO₂","O₂"], "range": ["#3b87d4","#f39a48","#1fae5a"]}, "legend": null}},
     "layer": [
      {"mark": {"type": "errorbar", "ticks": {"size": 3}, "thickness": 0.7}, "encoding": {"x": {"field": "lo", "type": "quantitative", "scale": {"domain": [0, 60], "nice": false}, "axis": {"orient": "top", "values": [0,10,20,30,40,50,60], "title": "Gas conc. [% v/v]"}}, "x2": {"field": "hi"}}},
      {"mark": {"type": "line", "strokeWidth": 1, "point": {"size": 5, "filled": true}}, "encoding": {"x": {"field": "v", "type": "quantitative", "scale": {"domain": [0, 60], "nice": false}, "axis": {"orient": "top", "values": [0,10,20,30,40,50,60], "title": "Gas conc. [% v/v]"}}, "order": {"field": "d", "type": "quantitative"}}}
     ]}
   ]},
  {"data": {"name": "temp"}, "width": 60, "height": 98, "title": "Temperature profiles",
   "transform": [{"filter": "datum.r=='c'"}],
   "encoding": {"y": {"field": "d", "type": "quantitative", "scale": {"domain": [-180, 0], "nice": false}, "axis": {"values": [0,-20,-40,-60,-80,-100,-120,-140,-160,-180], "title": "Depth [cm]"}},
    "color": {"field": "c", "type": "nominal", "scale": {"domain": ["Col. A","Col. B","Col. C"], "range": ["#000000","#ff0000","#ffc000"]}, "legend": {"orient": "none", "legendX": -18, "legendY": 98, "direction": "horizontal", "title": null, "padding": 0, "symbolType": "stroke", "symbolSize": 45, "symbolStrokeWidth": 1.2, "labelFontSize": 4.5, "columnPadding": 4, "labelOffset": 1.5}}},
   "layer": [
    {"mark": {"type": "errorbar", "ticks": {"size": 3}, "thickness": 0.7}, "encoding": {"x": {"field": "lo", "type": "quantitative", "scale": {"domain": [15, 30], "nice": false}, "axis": {"orient": "top", "values": [15,20,25,30], "title": "Temperature [°C]"}}, "x2": {"field": "hi"}}},
    {"mark": {"type": "line", "strokeWidth": 1, "point": {"size": 5, "filled": true, "shape": "square"}}, "encoding": {"x": {"field": "t", "type": "quantitative", "scale": {"domain": [15, 30], "nice": false}, "axis": {"orient": "top", "values": [15,20,25,30], "title": "Temperature [°C]"}}, "order": {"field": "d", "type": "quantitative"}}}
   ]}
 ]},
{"title": {"text": "(d)", "orient": "bottom", "anchor": "middle", "dx": -7, "fontSize": 6, "offset": 0},
 "spacing": 19,
 "resolve": {"scale": {"color": "independent", "x": "independent", "y": "independent"}, "legend": {"color": "independent"}},
 "hconcat": [
  {"spacing": 3,
   "resolve": {"scale": {"color": "independent", "x": "independent", "y": "independent"}, "legend": {"color": "independent"}},
   "hconcat": [
    {"data": {"name": "gas"}, "width": 63, "height": 98, "title": "Column A",
     "transform": [{"filter": "datum.r=='d' && datum.c=='A'"}],
     "encoding": {"y": {"field": "d", "type": "quantitative", "scale": {"domain": [-180, 0], "nice": false}, "axis": {"values": [0,-20,-40,-60,-80,-100,-120,-140,-160,-180], "title": "Depth [cm]"}},
      "color": {"field": "g", "type": "nominal", "scale": {"domain": ["CH₄","CO₂","O₂"], "range": ["#3b87d4","#f39a48","#1fae5a"]}, "legend": null}},
     "layer": [
      {"mark": {"type": "errorbar", "ticks": {"size": 3}, "thickness": 0.7}, "encoding": {"x": {"field": "lo", "type": "quantitative", "scale": {"domain": [0, 60], "nice": false}, "axis": {"orient": "top", "values": [0,10,20,30,40,50,60], "title": "Gas conc. [% v/v]"}}, "x2": {"field": "hi"}}},
      {"mark": {"type": "line", "strokeWidth": 1, "point": {"size": 5, "filled": true}}, "encoding": {"x": {"field": "v", "type": "quantitative", "scale": {"domain": [0, 60], "nice": false}, "axis": {"orient": "top", "values": [0,10,20,30,40,50,60], "title": "Gas conc. [% v/v]"}}, "order": {"field": "d", "type": "quantitative"}}}
     ]},
    {"data": {"name": "gas"}, "width": 63, "height": 98, "title": "Column B",
     "transform": [{"filter": "datum.r=='d' && datum.c=='B'"}],
     "encoding": {"y": {"field": "d", "type": "quantitative", "scale": {"domain": [-180, 0], "nice": false}, "axis": {"values": [0,-20,-40,-60,-80,-100,-120,-140,-160,-180], "labels": false, "ticks": false, "title": null}},
      "color": {"field": "g", "type": "nominal", "scale": {"domain": ["CH₄","CO₂","O₂"], "range": ["#3b87d4","#f39a48","#1fae5a"]}, "legend": {"orient": "none", "legendX": 2, "legendY": 98, "direction": "horizontal", "title": null, "padding": 0, "symbolType": "stroke", "symbolSize": 40, "symbolStrokeWidth": 1.2, "labelFontSize": 4.5, "columnPadding": 4, "labelOffset": 1.5}}},
     "layer": [
      {"mark": {"type": "errorbar", "ticks": {"size": 3}, "thickness": 0.7}, "encoding": {"x": {"field": "lo", "type": "quantitative", "scale": {"domain": [0, 60], "nice": false}, "axis": {"orient": "top", "values": [0,10,20,30,40,50,60], "title": "Gas conc. [% v/v]"}}, "x2": {"field": "hi"}}},
      {"mark": {"type": "line", "strokeWidth": 1, "point": {"size": 5, "filled": true}}, "encoding": {"x": {"field": "v", "type": "quantitative", "scale": {"domain": [0, 60], "nice": false}, "axis": {"orient": "top", "values": [0,10,20,30,40,50,60], "title": "Gas conc. [% v/v]"}}, "order": {"field": "d", "type": "quantitative"}}}
     ]},
    {"data": {"name": "gas"}, "width": 63, "height": 98, "title": "Column C",
     "transform": [{"filter": "datum.r=='d' && datum.c=='C'"}],
     "encoding": {"y": {"field": "d", "type": "quantitative", "scale": {"domain": [-180, 0], "nice": false}, "axis": {"values": [0,-20,-40,-60,-80,-100,-120,-140,-160,-180], "labels": false, "ticks": false, "title": null}},
      "color": {"field": "g", "type": "nominal", "scale": {"domain": ["CH₄","CO₂","O₂"], "range": ["#3b87d4","#f39a48","#1fae5a"]}, "legend": null}},
     "layer": [
      {"mark": {"type": "errorbar", "ticks": {"size": 3}, "thickness": 0.7}, "encoding": {"x": {"field": "lo", "type": "quantitative", "scale": {"domain": [0, 60], "nice": false}, "axis": {"orient": "top", "values": [0,10,20,30,40,50,60], "title": "Gas conc. [% v/v]"}}, "x2": {"field": "hi"}}},
      {"mark": {"type": "line", "strokeWidth": 1, "point": {"size": 5, "filled": true}}, "encoding": {"x": {"field": "v", "type": "quantitative", "scale": {"domain": [0, 60], "nice": false}, "axis": {"orient": "top", "values": [0,10,20,30,40,50,60], "title": "Gas conc. [% v/v]"}}, "order": {"field": "d", "type": "quantitative"}}}
     ]}
   ]},
  {"data": {"name": "temp"}, "width": 60, "height": 98, "title": "Temperature profiles",
   "transform": [{"filter": "datum.r=='d'"}],
   "encoding": {"y": {"field": "d", "type": "quantitative", "scale": {"domain": [-180, 0], "nice": false}, "axis": {"values": [0,-20,-40,-60,-80,-100,-120,-140,-160,-180], "title": "Depth [cm]"}},
    "color": {"field": "c", "type": "nominal", "scale": {"domain": ["Col. A","Col. B","Col. C"], "range": ["#000000","#ff0000","#ffc000"]}, "legend": {"orient": "none", "legendX": -18, "legendY": 98, "direction": "horizontal", "title": null, "padding": 0, "symbolType": "stroke", "symbolSize": 45, "symbolStrokeWidth": 1.2, "labelFontSize": 4.5, "columnPadding": 4, "labelOffset": 1.5}}},
   "layer": [
    {"mark": {"type": "errorbar", "ticks": {"size": 3}, "thickness": 0.7}, "encoding": {"x": {"field": "lo", "type": "quantitative", "scale": {"domain": [15, 30], "nice": false}, "axis": {"orient": "top", "values": [15,20,25,30], "title": "Temperature [°C]"}}, "x2": {"field": "hi"}}},
    {"mark": {"type": "line", "strokeWidth": 1, "point": {"size": 5, "filled": true, "shape": "square"}}, "encoding": {"x": {"field": "t", "type": "quantitative", "scale": {"domain": [15, 30], "nice": false}, "axis": {"orient": "top", "values": [15,20,25,30], "title": "Temperature [°C]"}}, "order": {"field": "d", "type": "quantitative"}}}
   ]}
 ]}
],
"config": {
 "font": "Liberation Serif",
 "view": {"stroke": "#7f7f7f", "strokeWidth": 1.2},
 "title": {"fontSize": 6.5, "fontWeight": "normal", "color": "#000000", "offset": 1},
 "axis": {"labelFontSize": 4.5, "titleFontSize": 4.5, "titleFontWeight": "normal", "labelColor": "#000000", "titleColor": "#000000", "gridColor": "#d9d9d9", "gridWidth": 0.6, "domain": false, "tickSize": 1.5, "tickColor": "#7f7f7f", "tickWidth": 0.5, "labelPadding": 1, "titlePadding": 1.5, "labelFlush": false, "labelOverlap": false},
 "legend": {"labelFont": "Liberation Serif", "labelColor": "#000000"}
}
}
